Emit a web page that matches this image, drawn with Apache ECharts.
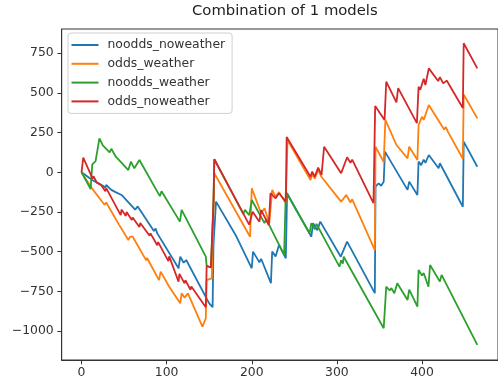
<!DOCTYPE html>
<html>
<head>
<meta charset="utf-8">
<script src="https://cdn.jsdelivr.net/npm/echarts@6/dist/echarts.min.js"></script>
<style>
html,body{margin:0;padding:0;background:#fff;}
#chart{width:498px;height:384px;}
</style>
</head>
<body>
<div id="chart"></div>
<script>
const titleText = 'Combination of 1 models';
const seriesNames = ['noodds_noweather', 'odds_weather', 'noodds_weather', 'odds_noweather'];
const seriesColors = ['#1f77b4', '#ff7f0e', '#2ca02c', '#d62728'];
const xTicks = [0, 100, 200, 300, 400];
const yTicks = [-1000, -750, -500, -250, 0, 250, 500, 750];

const nooddsNoweather = [[0,0],[13,-50],[15,-40],[20,-70],[22,-60],[28,-95],[29,-80],[35,-111],[37,-100],[40,-125],[42,-115],[47,-143],[63,-235],[66,-215],[85,-370],[87,-355],[89,-385],[91,-378],[114,-605],[116,-532],[120,-570],[123,-553],[150,-826],[154,-850],[155,-460],[158,-185],[181,-395],[200,-605],[201.5,-500],[209,-568],[211,-545],[222.5,-699],[224,-500],[228,-530],[232,-458],[240,-542],[241.5,-132],[270,-406],[272,-321],[277,-365],[280.5,-311],[304.6,-532],[312,-437],[344.6,-762],[345.4,-91],[349,-70],[352,-85],[355,-60],[356.5,130],[383,-111],[385,-59],[394.6,-143],[396,67],[399,45],[402,80],[404,60],[408,109],[419.5,25],[421,57],[448,-217],[449,193],[465,35]];

const oddsWeather = [[0,0],[12,-100],[27,-205],[29,-190],[44,-330],[55,-427],[57,-405],[59,-416],[60,-405],[76,-555],[77,-540],[91,-680],[93,-626],[103,-721],[116,-826],[117.6,-763],[121,-790],[125,-763],[142,-973],[146,-920],[147,-679],[153,-668],[156,-6],[198,-406],[200,-101],[211,-258],[215,-227],[220.6,-321],[224,-111],[228,-154],[232,-125],[240,-195],[242,203],[269,-49],[271,-10],[274,-40],[278,15],[282,-30],[305,-185],[311,-143],[316,-190],[318,-170],[344.6,-490],[345.4,161],[355,65],[357,330],[370,172],[383,88],[385,161],[394.6,78],[396,298],[400,350],[402,330],[408,424],[426,270],[428,285],[431,250],[448,85],[449,490],[465,340]];

const nooddsWeather = [[0,0],[10.7,-105],[12.6,50],[16.5,70],[18,60],[21,214],[25,170],[27,178],[33,125],[35,148],[40,100],[55,14],[58,67],[62,25],[68,77],[92,-150],[94,-120],[115.6,-311],[117.6,-237],[146,-532],[147,-590],[152,-600],[155,-200],[156,82],[190,-262],[192,-237],[197,-270],[200,-175],[215,-320],[217,-295],[238,-521],[240,-122],[251,-227],[268,-384],[270,-320],[274,-360],[276,-325],[303,-595],[305,-555],[307,-575],[308,-532],[355,-983],[358,-721],[362,-745],[364,-730],[367.5,-762],[371,-699],[383,-805],[385,-740],[394.6,-847],[396,-616],[400,-650],[402,-635],[407.6,-721],[409.5,-584],[421,-689],[423,-647],[465,-1088]];

const oddsNoweather = [[0,0],[2,92],[13,-40],[14,-25],[18,-65],[19,-55],[23,-80],[28,-120],[29,-100],[46,-270],[47,-235],[52,-275],[53,-250],[59,-300],[60,-285],[68,-345],[69,-320],[80,-400],[81,-385],[89,-460],[90,-440],[102,-560],[103,-530],[114,-690],[115,-640],[121,-700],[122,-680],[128,-740],[129,-720],[146,-850],[147,-590],[152,-600],[155,-200],[156,82],[197,-330],[201,-248],[209,-311],[211,-238],[220,-332],[222,-132],[228,-164],[232,-132],[240,-185],[241,222],[269,-28],[271,4],[274,-28],[278,29],[282,-17],[285,161],[305,-6],[312,95],[316,60],[318,80],[343,-195],[345,418],[356,330],[358,571],[370,440],[372,530],[394,310],[396,539],[398,520],[402,590],[404,550],[408,655],[419,575],[421,600],[425,560],[429,578],[448,405],[449,813],[465,655]];

const seriesData = [nooddsNoweather, oddsWeather, nooddsWeather, oddsNoweather];

const FONT = 'DejaVu Sans';
const minus = v => String(v).replace('-', '\u2212');

const chart = echarts.init(document.getElementById('chart'), null, {renderer: 'canvas'});
chart.setOption({
  animation: false,
  backgroundColor: '#ffffff',
  title: {
    text: titleText,
    left: 192,
    top: 4,
    padding: 0,
    textStyle: {fontFamily: FONT, fontSize: 14.8, fontWeight: 'normal', color: '#222'}
  },
  legend: {
    orient: 'vertical',
    left: 68,
    top: 33,
    padding: [5, 7, 5, 3.5],
    icon: 'rect',
    itemWidth: 27,
    itemHeight: 2,
    itemGap: 4.8,
    borderColor: '#d0d0d0',
    borderWidth: 1,
    borderRadius: 3,
    backgroundColor: 'rgba(255,255,255,0.8)',
    textStyle: {fontFamily: FONT, fontSize: 12.4, lineHeight: 14, color: '#333', padding: [0, 0, 0, 4]},
    data: seriesNames
  },
  grid: {
    left: 61.7,
    top: 29,
    width: 447.8,
    height: 331,
    show: true,
    borderColor: '#333',
    borderWidth: 1,
    containLabel: false
  },
  xAxis: {
    type: 'value',
    min: -23.3,
    max: 489.3,
    splitLine: {show: false},
    axisLine: {show: true, onZero: false, lineStyle: {color: '#333', width: 1}},
    axisTick: {show: true, length: 4.3, customValues: xTicks, lineStyle: {color: '#333'}},
    axisLabel: {customValues: xTicks, fontFamily: FONT, fontSize: 12.4, color: '#333', margin: 7, formatter: minus}
  },
  yAxis: {
    type: 'value',
    min: -1183,
    max: 903,
    splitLine: {show: false},
    axisLine: {show: true, onZero: false, lineStyle: {color: '#333', width: 1}},
    axisTick: {show: true, length: 4.3, customValues: yTicks, lineStyle: {color: '#333'}},
    axisLabel: {customValues: yTicks, fontFamily: FONT, fontSize: 12.4, color: '#333', margin: 8, formatter: minus}
  },
  series: seriesNames.map((name, i) => ({
    name: name,
    type: 'line',
    data: seriesData[i],
    symbol: 'none',
    color: seriesColors[i],
    lineStyle: {width: 1.8, color: seriesColors[i]},
    emphasis: {disabled: true}
  }))
});
</script>
</body>
</html>
